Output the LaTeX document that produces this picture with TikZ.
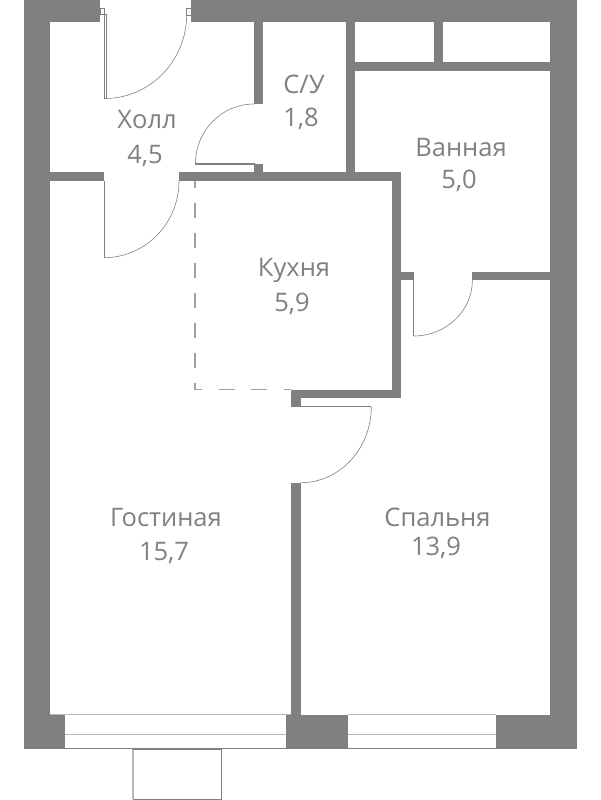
\documentclass[tikz,border=0pt]{standalone}
\usepackage{fontspec}
\setmainfont{Open Sans}
\definecolor{wallgray}{HTML}{7F8080}
\definecolor{framegray}{HTML}{B8B8B8}
\tikzset{
  wall/.style={fill=wallgray,draw=none},
  door/.style={draw=wallgray,line width=0.6pt},
  frameline/.style={draw=framegray,line width=1.5pt},
  edgeline/.style={draw=wallgray,line width=0.9pt},
  zone/.style={draw=wallgray!75,line width=1.2pt},
  roomlabel/.style={text=wallgray,font=\fontsize{25.5}{25.5}\selectfont,inner sep=0pt,anchor=base},
}
\begin{document}
\begin{tikzpicture}[x=1pt,y=-1pt]
\useasboundingbox (0,0) rectangle (600,800);
% walls
\foreach \xa/\ya/\xb/\yb in {24/0/50/749,24/0/100/22,191/0/577/22,550/0/577/749,
  254/22/263/104,254/164/263/172,50/172/104/181,179/172/401/181,346/22/355/172,
  355/62/550/71,434/22/443/62,392/172/401/398,291/390/401/398,291/390/300.7/407,
  291/482.7/300.7/715,401/271.7/414/280.4,472.4/271.7/550/280.4,
  24/714.5/65/749,286/714.5/348.3/749,495.7/714.5/577/749}{\fill[wall](\xa,\ya)rectangle(\xb,\yb);}
% windows
\foreach \xa/\xb in {65/286,348.3/495.7}{
  \draw[frameline](\xa,714.5)--(\xb,714.5) (\xa,734.7)--(\xb,734.7);
  \draw[edgeline](\xa,748.8)--(\xb,748.8);
}
\draw[frameline](50,714.5)--(65,714.5) (286,714.5)--(291,714.5);
% balcony
\draw[frameline](133,749)--(133,799);
\draw[edgeline](133,749)--(221.3,749)--(221.3,799)--(133,799);
% zone of the kitchen
\draw[zone,dash pattern=on 15pt off 15pt,dash phase=8pt](195,181)--(195,390);
\draw[zone,dash pattern=on 16pt off 16.5pt,dash phase=8pt](194.4,389.7)--(291,389.7);
% doors
\draw[door](100,8.3)rectangle(104.7,14.3) (186.7,8.3)rectangle(191,15);
\draw[door](104.7,14.3)rectangle(106.7,98.5);
\draw[door](104.7,98.5)arc[start angle=270,end angle=360,x radius=82pt,y radius=84.2pt];
\draw[door](195.5,163.4)rectangle(254,164.6);
\draw[door](254,104)arc[start angle=90,end angle=180,x radius=58.5pt,y radius=59.4pt];
\draw[door](104,181)--(104,257.7);
\draw[door](104,257.7)arc[start angle=270,end angle=360,x radius=75pt,y radius=76.7pt];
\draw[door](413.7,280)--(413.7,336);
\draw[door](413.7,336)arc[start angle=270,end angle=360,x radius=58.7pt,y radius=56pt];
\draw[door](300.7,406.7)--(371.3,406.7);
\draw[door](371.3,406.7)arc[start angle=0,end angle=-90,x radius=70.6pt,y radius=76pt];
% labels
\foreach \n/\x/\y/\a in {hall/147/128.5/{Холл},hallarea/145/163.5/{4,5},
  wc/304/93.5/{С/У},wcarea/301/126.7/{1,8},
  bath/461/156.7/{Ванная},batharea/459/188.3/{5,0},
  kitchen/294/276/{Кухня},kitchenarea/292/311.7/{5,9},
  living/166/526/{Гостиная},livingarea/164/560/{15,7},
  bedroom/437.5/526/{Спальня},bedroomarea/436/555/{13,9}}{\node[roomlabel](\n)at(\x,\y){\a};}
\end{tikzpicture}
\end{document}
